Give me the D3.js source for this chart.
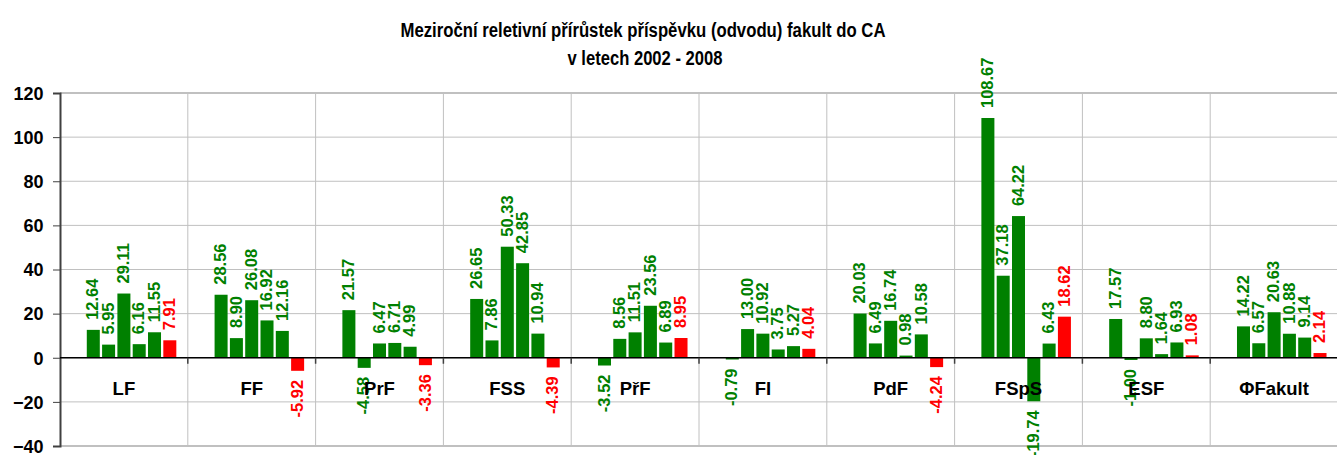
<!DOCTYPE html>
<html>
<head>
<meta charset="utf-8">
<script src="https://cdn.jsdelivr.net/npm/d3@7"></script>
<style>
  body { margin: 0; background: #fff; }
  svg { display: block; font-family: "Liberation Sans", Arial, sans-serif; }
</style>
</head>
<body>
<svg id="chart" width="1337" height="455"></svg>
<script>
// faculties and the yearly relative increments (%), first slot (2002) has no value
let faculties = ["LF", "FF", "PrF", "FSS", "PřF", "FI", "PdF", "FSpS", "ESF", "ΦFakult"];
let years = ["2002", "2003", "2004", "2005", "2006", "2007", "2008"];
let s2003 = [12.64, 28.56, 21.57, 26.65, -3.52, -0.79, 20.03, 108.67, 17.57, 14.22];
let s2004 = [5.95, 8.90, -4.58, 7.86, 8.56, 13.00, 6.49, 37.18, -1.00, 6.57];
let s2005 = [29.11, 26.08, 6.47, 50.33, 11.51, 10.92, 16.74, 64.22, 8.80, 20.63];
let s2006 = [6.16, 16.92, 6.71, 42.85, 23.56, 3.75, 0.98, -19.74, 1.64, 10.88];
let s2007 = [11.55, 12.16, 4.99, 10.94, 6.89, 5.27, 10.58, 6.43, 6.93, 9.14];
let s2008 = [7.91, -5.92, -3.36, -4.39, 8.95, 4.04, -4.24, 18.62, 1.08, 2.14];
let yTicks = [-40, -20, 0, 20, 40, 60, 80, 100, 120];

let series = [
    { year: "2003", values: s2003 },
    { year: "2004", values: s2004 },
    { year: "2005", values: s2005 },
    { year: "2006", values: s2006 },
    { year: "2007", values: s2007 },
    { year: "2008", values: s2008 }
];

let green = "#008000";
let red = "#ff0000";

let svg = d3.select("#chart");
let plotLeft = 60, plotRight = 1338, plotTop = 93, plotBottom = 446;

let x = d3.scaleBand().domain(faculties).range([plotLeft, plotRight]);
let xi = d3.scaleBand().domain(years).range([0, x.bandwidth()])
    .paddingInner(0.15).paddingOuter(0.75);
let y = d3.scaleLinear().domain([-40, 120]).range([plotBottom, plotTop]);

// flatten into bars
let bars = [];
series.forEach(function (s) {
    s.values.forEach(function (v, i) {
        bars.push({ fac: faculties[i], year: s.year, value: v });
    });
});
function barColor(d) { return d.year === "2008" ? red : green; }

// title
let title = svg.append("g").attr("font-weight", "bold").attr("font-size", "20px")
    .attr("text-anchor", "middle").attr("fill", "#000");
title.append("text").attr("x", 643).attr("y", 37)
    .attr("textLength", 485).attr("lengthAdjust", "spacingAndGlyphs")
    .text("Meziroční reletivní přírůstek příspěvku (odvodu) fakult do CA");
title.append("text").attr("x", 645).attr("y", 65)
    .attr("textLength", 155).attr("lengthAdjust", "spacingAndGlyphs")
    .text("v letech 2002 - 2008");

// grid
svg.append("g").selectAll("line")
    .data(yTicks).enter().append("line")
    .attr("x1", plotLeft).attr("x2", plotRight)
    .attr("y1", function (d) { return y(d); }).attr("y2", function (d) { return y(d); })
    .attr("stroke", "#c0c0c0")
    .attr("stroke-width", function (d) { return (d === 120 || d === -40) ? 2 : 1; });

svg.append("g").selectAll("line")
    .data(faculties.slice(1)).enter().append("line")
    .attr("x1", function (d) { return x(d); }).attr("x2", function (d) { return x(d); })
    .attr("y1", plotTop).attr("y2", plotBottom)
    .attr("stroke", "#c0c0c0");

// bars
svg.append("g").selectAll("rect")
    .data(bars).enter().append("rect")
    .attr("x", function (d) { return x(d.fac) + xi(d.year); })
    .attr("width", xi.bandwidth())
    .attr("y", function (d) { return y(Math.max(0, d.value)); })
    .attr("height", function (d) { return Math.abs(y(d.value) - y(0)); })
    .attr("fill", barColor);

// y axis
let yAxis = svg.append("g")
    .attr("transform", "translate(" + plotLeft + ",0)")
    .call(d3.axisLeft(y).tickValues(yTicks).tickSize(7).tickPadding(9.5));
yAxis.select(".domain").attr("stroke", "#404040").attr("stroke-width", 2);
yAxis.selectAll(".tick line").attr("stroke", "#404040");
yAxis.selectAll(".tick text")
    .attr("dy", "0.35em")
    .attr("font-family", "'Liberation Sans', Arial, sans-serif")
    .attr("font-size", "18px").attr("font-weight", "bold").attr("fill", "#000");

// zero line with category ticks
svg.append("line")
    .attr("x1", plotLeft).attr("x2", plotRight).attr("y1", y(0)).attr("y2", y(0))
    .attr("stroke", "#000").attr("stroke-width", 1.5);
svg.append("g").selectAll("line")
    .data(faculties.slice(1)).enter().append("line")
    .attr("x1", function (d) { return x(d); }).attr("x2", function (d) { return x(d); })
    .attr("y1", y(0)).attr("y2", y(0) + 6)
    .attr("stroke", "#404040").attr("stroke-width", 1.5);

// value labels, rotated
svg.append("g").selectAll("text")
    .data(bars).enter().append("text")
    .attr("transform", function (d) {
        let cx = x(d.fac) + xi(d.year) + xi.bandwidth() / 2 + 5.2;
        let cy = d.value >= 0 ? y(d.value) - 10 : y(d.value) + 9;
        return "translate(" + cx + "," + cy + ") rotate(-90)";
    })
    .attr("text-anchor", function (d) { return d.value >= 0 ? "start" : "end"; })
    .attr("font-size", "16.5px").attr("font-weight", "bold")
    .attr("fill", barColor)
    .text(function (d) { return d.value.toFixed(2); });

// category labels
svg.append("g").selectAll("text")
    .data(faculties).enter().append("text")
    .attr("x", function (d) { return x(d) + x.bandwidth() / 2; })
    .attr("y", 394.5)
    .attr("text-anchor", "middle")
    .attr("font-size", "18.5px").attr("font-weight", "bold").attr("fill", "#000")
    .text(function (d) { return d; });
</script>
</body>
</html>
